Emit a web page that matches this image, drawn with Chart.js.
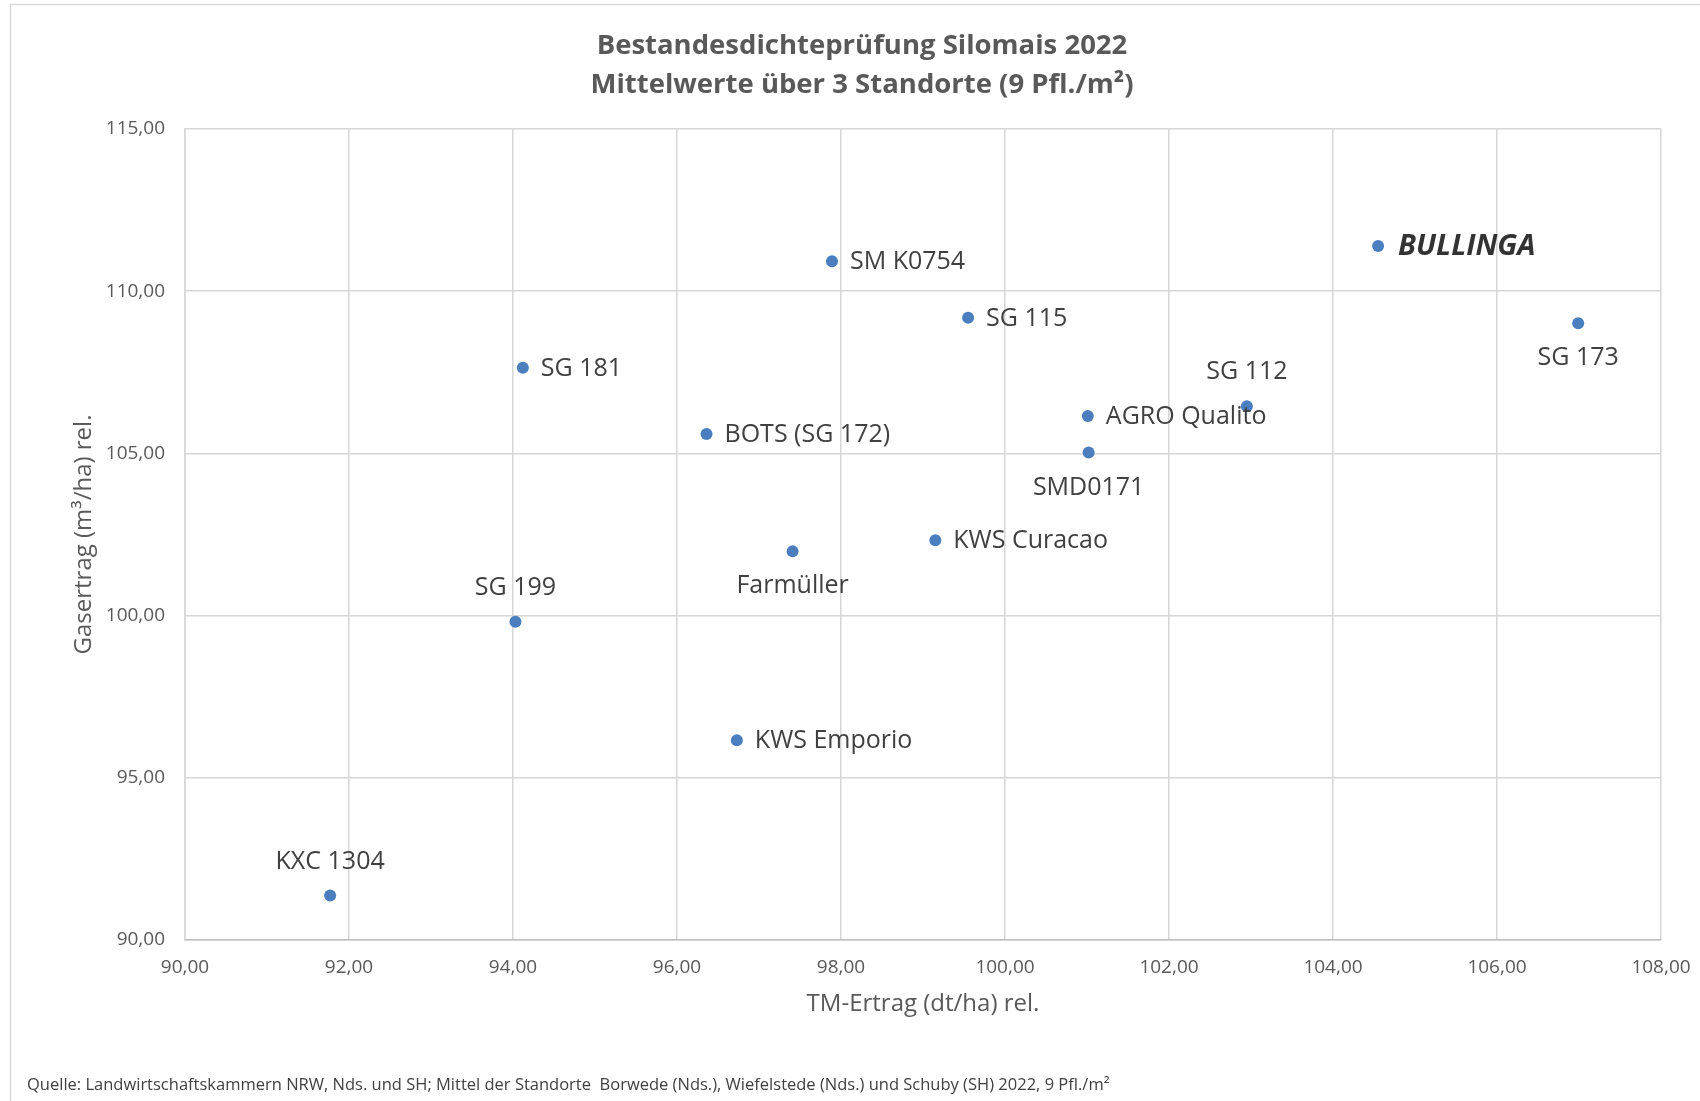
<!DOCTYPE html>
<html lang="de">
<head>
<meta charset="utf-8">
<title>Bestandesdichteprüfung Silomais 2022</title>
<script src="https://cdn.jsdelivr.net/npm/chart.js@4.4.1/dist/chart.umd.min.js"></script>
<style>
    html, body { margin: 0; padding: 0; background: #fff; overflow: hidden; }
    canvas { display: block; }
</style>
</head>
<body>
<canvas id="scatterChart" width="1700" height="1101"></canvas>
<script>
// Sorten und Werte (relativ)
const sorten = ['KXC 1304', 'SG 199', 'SG 181', 'BOTS (SG 172)', 'KWS Emporio', 'Farmüller', 'SM K0754',
    'KWS Curacao', 'SG 115', 'AGRO Qualito', 'SMD0171', 'SG 112', 'BULLINGA', 'SG 173'];
const tmErtrag = [91.77, 94.03, 94.12, 96.36, 96.73, 97.41, 97.89, 99.15, 99.55, 101.01, 101.02, 102.95, 104.55, 106.99];
const gasErtrag = [91.37, 99.81, 107.64, 105.60, 96.16, 101.98, 110.92, 102.32, 109.18, 106.15, 105.03, 106.45, 111.39, 109.01];
// Lage der Beschriftung zum Punkt
const labelLage = ['above', 'above', 'right', 'right', 'right', 'below', 'right',
    'right', 'right', 'right', 'below', 'above', 'right', 'below'];
const hervorgehoben = ['BULLINGA'];

const xTicks = [90, 92, 94, 96, 98, 100, 102, 104, 106, 108];
const yTicks = [90, 95, 100, 105, 110, 115];

const titel = ['Bestandesdichteprüfung Silomais 2022', 'Mittelwerte über 3 Standorte (9 Pfl./m²)'];
const xTitel = 'TM-Ertrag (dt/ha) rel.';
const yTitel = 'Gasertrag (m³/ha) rel.';
const quelle = 'Quelle: Landwirtschaftskammern NRW, Nds. und SH; Mittel der Standorte  Borwede (Nds.), Wiefelstede (Nds.) und Schuby (SH) 2022, 9 Pfl./m²';

const FONT = "'Open Sans', 'Noto Sans', sans-serif";
const fmt = v => Number(v).toFixed(2).replace('.', ',');

const punkte = sorten.map((name, i) => ({ x: tmErtrag[i], y: gasErtrag[i], name: name }));

// weisser Hintergrund + Rahmen
const rahmenPlugin = {
    id: 'rahmen',
    beforeDraw(chart) {
        const ctx = chart.ctx;
        ctx.save();
        ctx.fillStyle = '#ffffff';
        ctx.fillRect(0, 0, chart.width, chart.height);
        ctx.strokeStyle = '#d9d9d9';
        ctx.lineWidth = 1.5;
        ctx.strokeRect(10.5, 4.5, chart.width + 20, chart.height + 20);
        ctx.restore();
    },
    afterDraw(chart) {
        // Quellenangabe unten links
        const ctx = chart.ctx;
        ctx.save();
        ctx.font = '16.5px ' + FONT;
        ctx.fillStyle = '#404040';
        ctx.textBaseline = 'middle';
        ctx.textAlign = 'left';
        ctx.fillText(quelle, 27, 1085);
        ctx.restore();
    }
};

// Beschriftung der Punkte
const labelPlugin = {
    id: 'punktLabels',
    afterDatasetsDraw(chart) {
        const ctx = chart.ctx;
        const meta = chart.getDatasetMeta(0);
        ctx.save();
        meta.data.forEach((pt, i) => {
            const name = sorten[i];
            const fett = hervorgehoben.includes(name);
            ctx.font = fett ? 'italic bold 29px ' + FONT : '25px ' + FONT;
            ctx.fillStyle = fett ? '#333333' : '#404040';
            ctx.textBaseline = 'middle';
            const lage = labelLage[i];
            if (lage === 'right') {
                ctx.textAlign = 'left';
                ctx.fillText(name, pt.x + (fett ? 20 : 18), pt.y + 1);
            } else if (lage === 'above') {
                ctx.textAlign = 'center';
                ctx.fillText(name, pt.x, pt.y - 34);
            } else {
                ctx.textAlign = 'center';
                ctx.fillText(name, pt.x, pt.y + 35);
            }
        });
        ctx.restore();
    }
};

new Chart(document.getElementById('scatterChart'), {
    type: 'scatter',
    data: {
        datasets: [{
            label: 'Sorten',
            data: punkte,
            backgroundColor: '#4a7ebf',
            borderWidth: 0,
            pointRadius: 6,
            pointHoverRadius: 6
        }]
    },
    plugins: [rahmenPlugin, labelPlugin],
    options: {
        responsive: false,
        animation: false,
        devicePixelRatio: 1,
        layout: {
            padding: { top: 0, bottom: 38, left: 63, right: 39 }
        },
        plugins: {
            legend: { display: false },
            tooltip: { enabled: false },
            title: {
                display: true,
                text: titel,
                color: '#595959',
                font: { family: FONT, size: 27.5, weight: 'bold', lineHeight: 1.4 },
                padding: { top: 27, bottom: 25 }
            }
        },
        scales: {
            x: {
                type: 'linear',
                min: xTicks[0],
                max: xTicks[xTicks.length - 1],
                afterBuildTicks: s => { s.ticks = xTicks.map(v => ({ value: v })); },
                afterFit: s => { s.height = 123; s.paddingRight = 0; s.paddingLeft = 0; },
                grid: { color: '#d6d6d6', lineWidth: 1.5, drawTicks: false },
                border: { color: '#bfbfbf', width: 1.5 },
                ticks: {
                    color: '#595959',
                    font: { family: FONT, size: 19 },
                    padding: 16,
                    maxRotation: 0,
                    callback: v => fmt(v)
                },
                title: {
                    display: true,
                    text: xTitel,
                    color: '#595959',
                    font: { family: FONT, size: 24 },
                    padding: { top: 0, bottom: 44 }
                }
            },
            y: {
                type: 'linear',
                min: yTicks[0],
                max: yTicks[yTicks.length - 1],
                afterBuildTicks: s => { s.ticks = yTicks.map(v => ({ value: v })); },
                afterFit: s => { s.width = 122; },
                grid: { color: '#d6d6d6', lineWidth: 1.5, drawTicks: false },
                border: { color: '#d6d6d6', width: 1.5 },
                ticks: {
                    color: '#595959',
                    font: { family: FONT, size: 19 },
                    padding: 20,
                    callback: v => fmt(v)
                },
                title: {
                    display: true,
                    text: yTitel,
                    color: '#595959',
                    font: { family: FONT, size: 24 },
                    padding: { top: 7, bottom: 0 }
                }
            }
        }
    }
});
</script>
</body>
</html>
